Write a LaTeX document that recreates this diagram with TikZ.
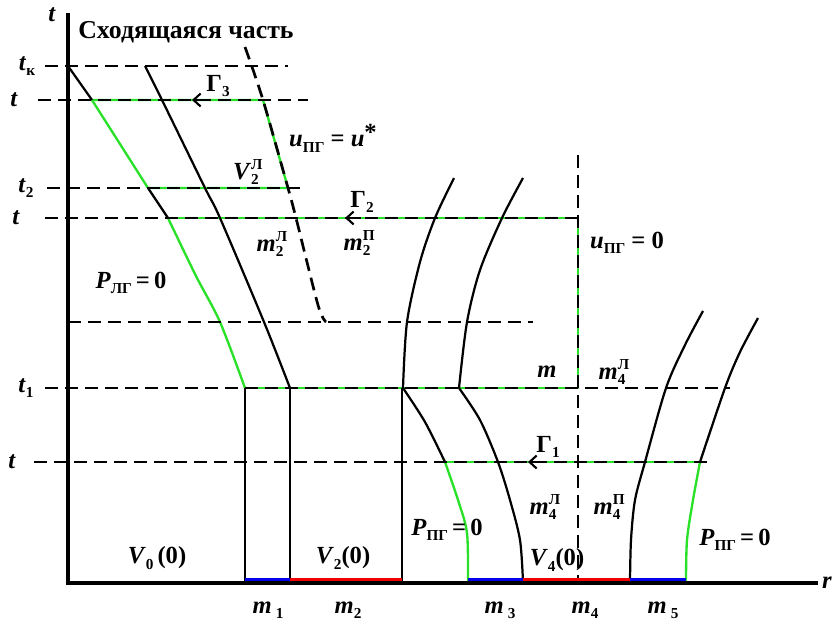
\documentclass[tikz,border=0pt]{standalone}
\usepackage{fontspec}
\setmainfont{Liberation Serif}
\usetikzlibrary{arrows.meta}
\definecolor{grn}{RGB}{40,225,40}
\definecolor{blu}{RGB}{0,0,235}
\definecolor{rd}{RGB}{240,0,0}
\newcommand{\lsub}[1]{\raisebox{-0.45ex}{\fontsize{13}{13}\selectfont\upshape #1}}
\newcommand{\lss}[2]{{\fontsize{13}{13}\selectfont\upshape\rlap{\raisebox{1.4ex}{#1}}\raisebox{-0.7ex}{#2}}}
\begin{document}
\begin{tikzpicture}[x=0.03cm,y=-0.03cm,
  lbl/.style={font=\fontsize{21}{24}\selectfont\bfseries, inner sep=0pt},
  axisline/.style={line width=2.8pt},
  dline/.style={line width=2.3pt, dash pattern=on 0.39cm off 0.21cm},
  gline/.style={grn, line width=2pt},
  curve/.style={line width=1.9pt},
  thin/.style={line width=0.9pt},
  bar/.style={line width=5.5pt},
  garrow/.style={line width=1.8pt, -{Straight Barb[length=6pt,width=11pt,line width=1.8pt]}}]
\useasboundingbox (0,0) rectangle (832,630);

% coordinates
\coordinate (O) at (68,583);
\coordinate (Ttop) at (68,13);
\coordinate (Rend) at (818,583);

% ---------- green loops ----------
\draw[gline] (92,100) -- (263,100) -- (288,188) -- (148,188);
\draw[gline] (92,100) -- (148,188);
\draw[gline] (168,218) -- (578,218) -- (578,388) -- (245,388);
\draw[gline] plot[smooth] coordinates {(168,218) (196,276) (220,322) (245,388)};
\draw[gline] (445,462) -- (700,462);
\draw[gline] plot[smooth] coordinates {(445,462) (458,500) (467,533) (468,582)};
\draw[gline] plot[smooth] coordinates {(700,462) (693,500) (687,540) (686,582)};

% ---------- dashed lines ----------
\draw[dline] (45,66) -- (288,66);
\draw[dline] (38,100) -- (308,100);
\draw[dline] (47,188) -- (302,188);
\draw[dline] (45,218) -- (578,218);
\draw[dline] (68,322) -- (533,322);
\draw[dline] (45,388) -- (730,388);
\draw[dline] (34,462) -- (707,462);
\draw[dline] plot[smooth] coordinates {(245,47) (263,100) (288,188) (296,218) (318,305) (326,322)};
\draw[dline] (578,155) -- (578,582);

% ---------- black curves ----------
\draw[curve] (68,66) -- (92,100);
\draw[curve] (148,188) -- (168,218);
\draw[curve] plot[smooth] coordinates {(145,66) (162,100) (205,188) (220,218) (264,322) (290,388)};
\draw[curve] plot[smooth] coordinates {(454,178) (435,218) (420,262) (407,322) (403,388)};
\draw[curve] plot[smooth] coordinates {(403,388) (425,422) (445,462)};
\draw[curve] plot[smooth] coordinates {(523,178) (502,218) (480,270) (467,322) (459,388)};
\draw[curve] plot[smooth] coordinates {(459,388) (480,420) (498,462) (510,500) (520,540) (523,582)};
\draw[curve] plot[smooth] coordinates {(703,311) (685,345) (666,388) (645,462) (635,500) (631,540) (630,582)};
\draw[curve] plot[smooth] coordinates {(758,318) (740,352) (725,388) (700,462)};

% thin verticals
\draw[thin] (245,388) -- (245,582);
\draw[thin] (290,388) -- (290,582);
\draw[thin] (402,388) -- (402,582);

% arrows Gamma
\draw[garrow] (208,100) -- (192,100);
\draw[garrow] (361,218) -- (345,218);
\draw[garrow] (544,462) -- (528,462);

% colored bars
\draw[bar,blu] (245,581) -- (290,581);
\draw[bar,rd] (290,581) -- (402,581);
\draw[bar,blu] (468,581) -- (523,581);
\draw[bar,rd] (523,581) -- (630,581);
\draw[bar,blu] (630,581) -- (686,581);

% axes
\draw[axisline] (Ttop) -- (O) -- (Rend);

% ---------- labels ----------
\node[lbl] (tax) at (52,15) {\textit{t}};
\node[lbl] (rax) at (822,583) [anchor=west] {\textit{r}};
\node[lbl] (tk) at (27,66) {\textit{t}\lsub{к}};
\node[lbl] (ta) at (14,100) {\textit{t}};
\node[lbl] (t2) at (26,188) {\textit{t}\lsub{2}};
\node[lbl] (tb) at (16,218) {\textit{t}};
\node[lbl] (t1) at (26,388) {\textit{t}\lsub{1}};
\node[lbl] (tc) at (12,462) {\textit{t}};
\node[lbl, font=\fontsize{22}{24}\selectfont\bfseries] (title) at (186,32) {Сходящаяся часть};
\node[lbl] (G3) at (218,86) {Γ\lsub{3}};
\node[lbl] (G2) at (362,202) {Γ\lsub{2}};
\node[lbl] (G1) at (548,447) {Γ\lsub{1}};
\node[lbl] (ustar) at (333,138) {\textit{u}\lsub{ПГ} = \textit{u}\raisebox{0.6ex}{*}};
\node[lbl] (V2L) at (246,172) {\textit{V}\lss{Л}{2}};
\node[lbl] (m2L) at (270,244) {\textit{m}\lss{Л}{2}};
\node[lbl] (m2P) at (357,243) {\textit{m}\lss{П}{2}};
\node[lbl] (u0) at (627,243) {\textit{u}\lsub{ПГ} = 0};
\node[lbl] (PLG) at (131,283) {\textit{P}\lsub{ЛГ}\,=\,0};
\node[lbl] (mm) at (547,372) {\textit{m}};
\node[lbl] (m4La) at (612,372) {\textit{m}\lss{Л}{4}};
\node[lbl] (m4Lb) at (543,507) {\textit{m}\lss{Л}{4}};
\node[lbl] (m4Pb) at (607,507) {\textit{m}\lss{П}{4}};
\node[lbl] (PPGl) at (447,530) {\textit{P}\lsub{ПГ}\,=\,0};
\node[lbl] (PPGr) at (735,540) {\textit{P}\lsub{ПГ}\,=\,0};
\node[lbl] (V4) at (557,560) {\textit{V}\lsub{4}(0)};
\node[lbl] (V0) at (157,558) {\textit{V}\lsub{0}\,(0)};
\node[lbl] (V2) at (343,558) {\textit{V}\lsub{2}(0)};
\node[lbl] (m1) at (268,610) {\textit{m}\,\lsub{1}};
\node[lbl] (m2) at (348,610) {\textit{m}\lsub{2}};
\node[lbl] (m3) at (500,610) {\textit{m}\,\lsub{3}};
\node[lbl] (m4) at (585,610) {\textit{m}\lsub{4}};
\node[lbl] (m5) at (663,610) {\textit{m}\,\lsub{5}};
\end{tikzpicture}
\end{document}
